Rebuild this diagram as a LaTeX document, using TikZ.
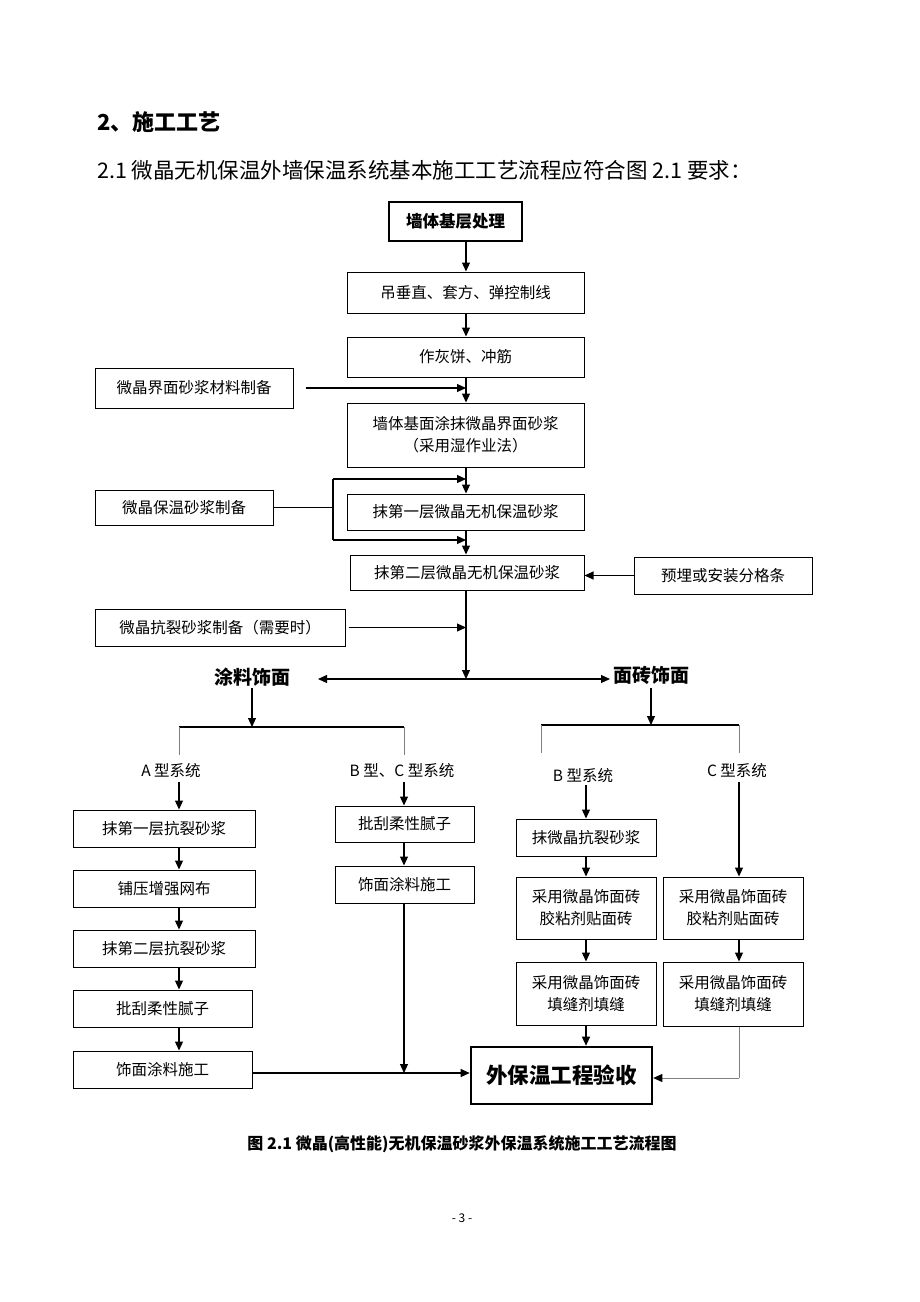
\documentclass[tikz,border=0pt]{standalone}
\usepackage{fontspec}
\setmainfont{Noto Sans CJK SC}
\usetikzlibrary{arrows.meta}
\begin{document}
\begin{tikzpicture}[x=1pt,y=-1pt,
  box/.style={draw,line width=1pt,align=center,inner sep=0pt,font=\fontsize{15.5}{22}\selectfont},
  thickbox/.style={draw,line width=2.6pt,align=center,inner sep=0pt},
  arr/.style={line width=1.1pt,-{Triangle[length=9pt,width=8pt]}},
  ln/.style={line width=1.1pt},
  gl/.style={line width=0.7pt,gray},
  lbl/.style={inner sep=0pt,font=\fontsize{15.5}{18}\selectfont},
  head/.style={inner sep=0pt,font=\bfseries\fontsize{19}{22}\selectfont}]
\useasboundingbox (0,0) rectangle (920,1302);
% heading texts
\node[anchor=west,inner sep=0pt,font=\bfseries\fontsize{22}{24}\selectfont] (h1) at (97,122) {2、施工工艺};
\node[anchor=west,inner sep=0pt,font=\fontsize{21.5}{24}\selectfont] (h2) at (97,170) {2.1 微晶无机保温外墙保温系统基本施工工艺流程应符合图 2.1 要求：};
% main column
\node[thickbox,minimum width=133pt,minimum height=39pt,font=\bfseries\fontsize{16.5}{20}\selectfont] (top) at (455.5,221.5) {墙体基层处理};
\node[box,minimum width=237pt,minimum height=41pt] (b1) at (465.5,292.5) {吊垂直、套方、弹控制线};
\node[box,minimum width=237pt,minimum height=40pt] (b2) at (465.5,357) {作灰饼、冲筋};
\node[box,minimum width=198pt,minimum height=40pt] (s1) at (194,388) {微晶界面砂浆材料制备};
\node[box,minimum width=237pt,minimum height=64pt] (b3) at (465.5,435) {墙体基面涂抹微晶界面砂浆\\（采用湿作业法）};
\node[box,minimum width=178pt,minimum height=35pt] (s2) at (184,507.5) {微晶保温砂浆制备};
\node[box,minimum width=237pt,minimum height=36pt] (b4) at (465.5,512) {抹第一层微晶无机保温砂浆};
\node[box,minimum width=234pt,minimum height=35pt] (b5) at (467,572.5) {抹第二层微晶无机保温砂浆};
\node[box,minimum width=178pt,minimum height=37pt] (s3) at (723,575.5) {预埋或安装分格条};
\node[box,minimum width=250pt,minimum height=37pt] (s4) at (220,627.5) {微晶抗裂砂浆制备（需要时）};
\coordinate (mx) at (466,0);
\coordinate (j) at (466,679);
\coordinate (jl) at (318,679);
\coordinate (jr) at (610,679);
\node[head] (t1) at (252,677) {涂料饰面};
\node[head] (t2) at (651,675) {面砖饰面};
\draw[arr] (top.south -| mx) -- (b1.north -| mx);
\draw[arr] (b1.south -| mx) -- (b2.north -| mx);
\draw[arr] (b2.south -| mx) -- (b3.north -| mx);
\draw[arr] ([xshift=12pt]s1.east) -- (s1.east -| mx);
\draw[arr] (b3.south -| mx) -- (b4.north -| mx);
\draw[arr] (b4.south -| mx) -- (b5.north -| mx);
\coordinate (bk) at (333,508);
\coordinate (bkt) at (333,479);
\coordinate (bkb) at (333,540);
\draw[ln] (s2.east) -- (s2.east -| bk);
\draw[ln] (bkt) -- (bkb);
\draw[arr] (bkt) -- (bkt -| mx);
\draw[arr] (bkb) -- (bkb -| mx);
\draw[arr] (s3.west) -- (s3.west -| b5.east);
\draw[arr] (b5.south -| mx) -- (j);
\draw[arr] ([xshift=3pt]s4.east) -- (s4.east -| mx);
\draw[ln,{Triangle[length=9pt,width=8pt]}-{Triangle[length=9pt,width=8pt]}] (jl) -- (jr);
% left bracket
\coordinate (la) at (179,727);
\coordinate (lb) at (404,727);
\draw[arr] ([yshift=-2pt]t1.south) -- (t1.south |- la);
\draw[ln] (la) -- (lb);
\draw[gl] (la) -- ++(0,28);
\draw[gl] (lb) -- ++(0,28);
\node[lbl] (la1) at (171,771) {A 型系统};
\node[lbl] (lb1) at (402,771) {B 型、C 型系统};
% right bracket
\coordinate (ra) at (541,725);
\coordinate (rb) at (739,725);
\draw[arr] ([yshift=-4pt]t2.south) -- (t2.south |- ra);
\draw[ln] (ra) -- (rb);
\draw[gl] (ra) -- ++(0,28);
\draw[gl] (rb) -- ++(0,28);
\node[lbl] (rb0) at (583,776) {B 型系统};
\node[lbl] (rc0) at (737,771) {C 型系统};
% left column
\coordinate (ca) at (179,0);
\node[box,minimum width=182pt,minimum height=37pt] (a1) at (164,828.5) {抹第一层抗裂砂浆};
\node[box,minimum width=182pt,minimum height=37pt] (a2) at (164,888.5) {铺压增强网布};
\node[box,minimum width=182pt,minimum height=37pt] (a3) at (164,948.5) {抹第二层抗裂砂浆};
\node[box,minimum width=179pt,minimum height=37pt] (a4) at (162.5,1008.5) {批刮柔性腻子};
\node[box,minimum width=179pt,minimum height=37pt] (a5) at (162.5,1069.5) {饰面涂料施工};
\draw[arr] ([yshift=-4pt]la1.south -| ca) -- (a1.north -| ca);
\draw[arr] (a1.south -| ca) -- (a2.north -| ca);
\draw[arr] (a2.south -| ca) -- (a3.north -| ca);
\draw[arr] (a3.south -| ca) -- (a4.north -| ca);
\draw[arr] (a4.south -| ca) -- (a5.north -| ca);
% middle column
\node[box,minimum width=139pt,minimum height=36pt] (m1) at (404.5,824) {批刮柔性腻子};
\node[box,minimum width=139pt,minimum height=37pt] (m2) at (404.5,884.5) {饰面涂料施工};
\coordinate (cm) at (404,0);
\node[thickbox,minimum width=181pt,minimum height=57pt,font=\bfseries\fontsize{21.5}{24}\selectfont] (f) at (561.5,1075.5) {外保温工程验收};
\coordinate (hy) at (0,1073);
\draw[arr] ([yshift=-4pt]lb1.south -| cm) -- (m1.north -| cm);
\draw[arr] (m1.south -| cm) -- (m2.north -| cm);
\draw[arr] (m2.south -| cm) -- (hy -| cm);
\draw[arr] (hy -| a5.east) -- (hy -| f.west);
% right B column
\node[box,minimum width=140pt,minimum height=37pt] (rb1) at (586,837.5) {抹微晶抗裂砂浆};
\node[box,minimum width=140pt,minimum height=62pt] (rb2) at (586,908) {采用微晶饰面砖\\胶粘剂贴面砖};
\node[box,minimum width=140pt,minimum height=63pt] (rb3) at (586,993.5) {采用微晶饰面砖\\填缝剂填缝};
\coordinate (cb) at (586,0);
\draw[arr] ([yshift=-2pt]rb0.south -| cb) -- (rb1.north -| cb);
\draw[arr] (rb1.south -| cb) -- (rb2.north -| cb);
\draw[arr] (rb2.south -| cb) -- (rb3.north -| cb);
\draw[arr] (rb3.south -| cb) -- (f.north -| cb);
% right C column
\node[box,minimum width=140pt,minimum height=62pt] (rc2) at (733,908) {采用微晶饰面砖\\胶粘剂贴面砖};
\node[box,minimum width=140pt,minimum height=64pt] (rc3) at (733,994) {采用微晶饰面砖\\填缝剂填缝};
\coordinate (cc) at (739,0);
\coordinate (cy) at (0,1078);
\draw[arr] ([yshift=-4pt]rc0.south -| cc) -- (rc2.north -| cc);
\draw[arr] (rc2.south -| cc) -- (rc3.north -| cc);
\draw[gl] (rc3.south -| cc) -- (cy -| cc);
\draw[gl,-{Triangle[length=9pt,width=8pt,color=black]}] (cy -| cc) -- (cy -| f.east);
% caption
\node[inner sep=0pt,font=\bfseries\fontsize{16}{18}\selectfont] (cap) at (462,1144) {图 2.1 微晶(高性能)无机保温砂浆外保温系统施工工艺流程图};
\node[inner sep=0pt,font=\fontsize{12}{14}\selectfont] (pg) at (462,1218) {- 3 -};
\end{tikzpicture}
\end{document}
